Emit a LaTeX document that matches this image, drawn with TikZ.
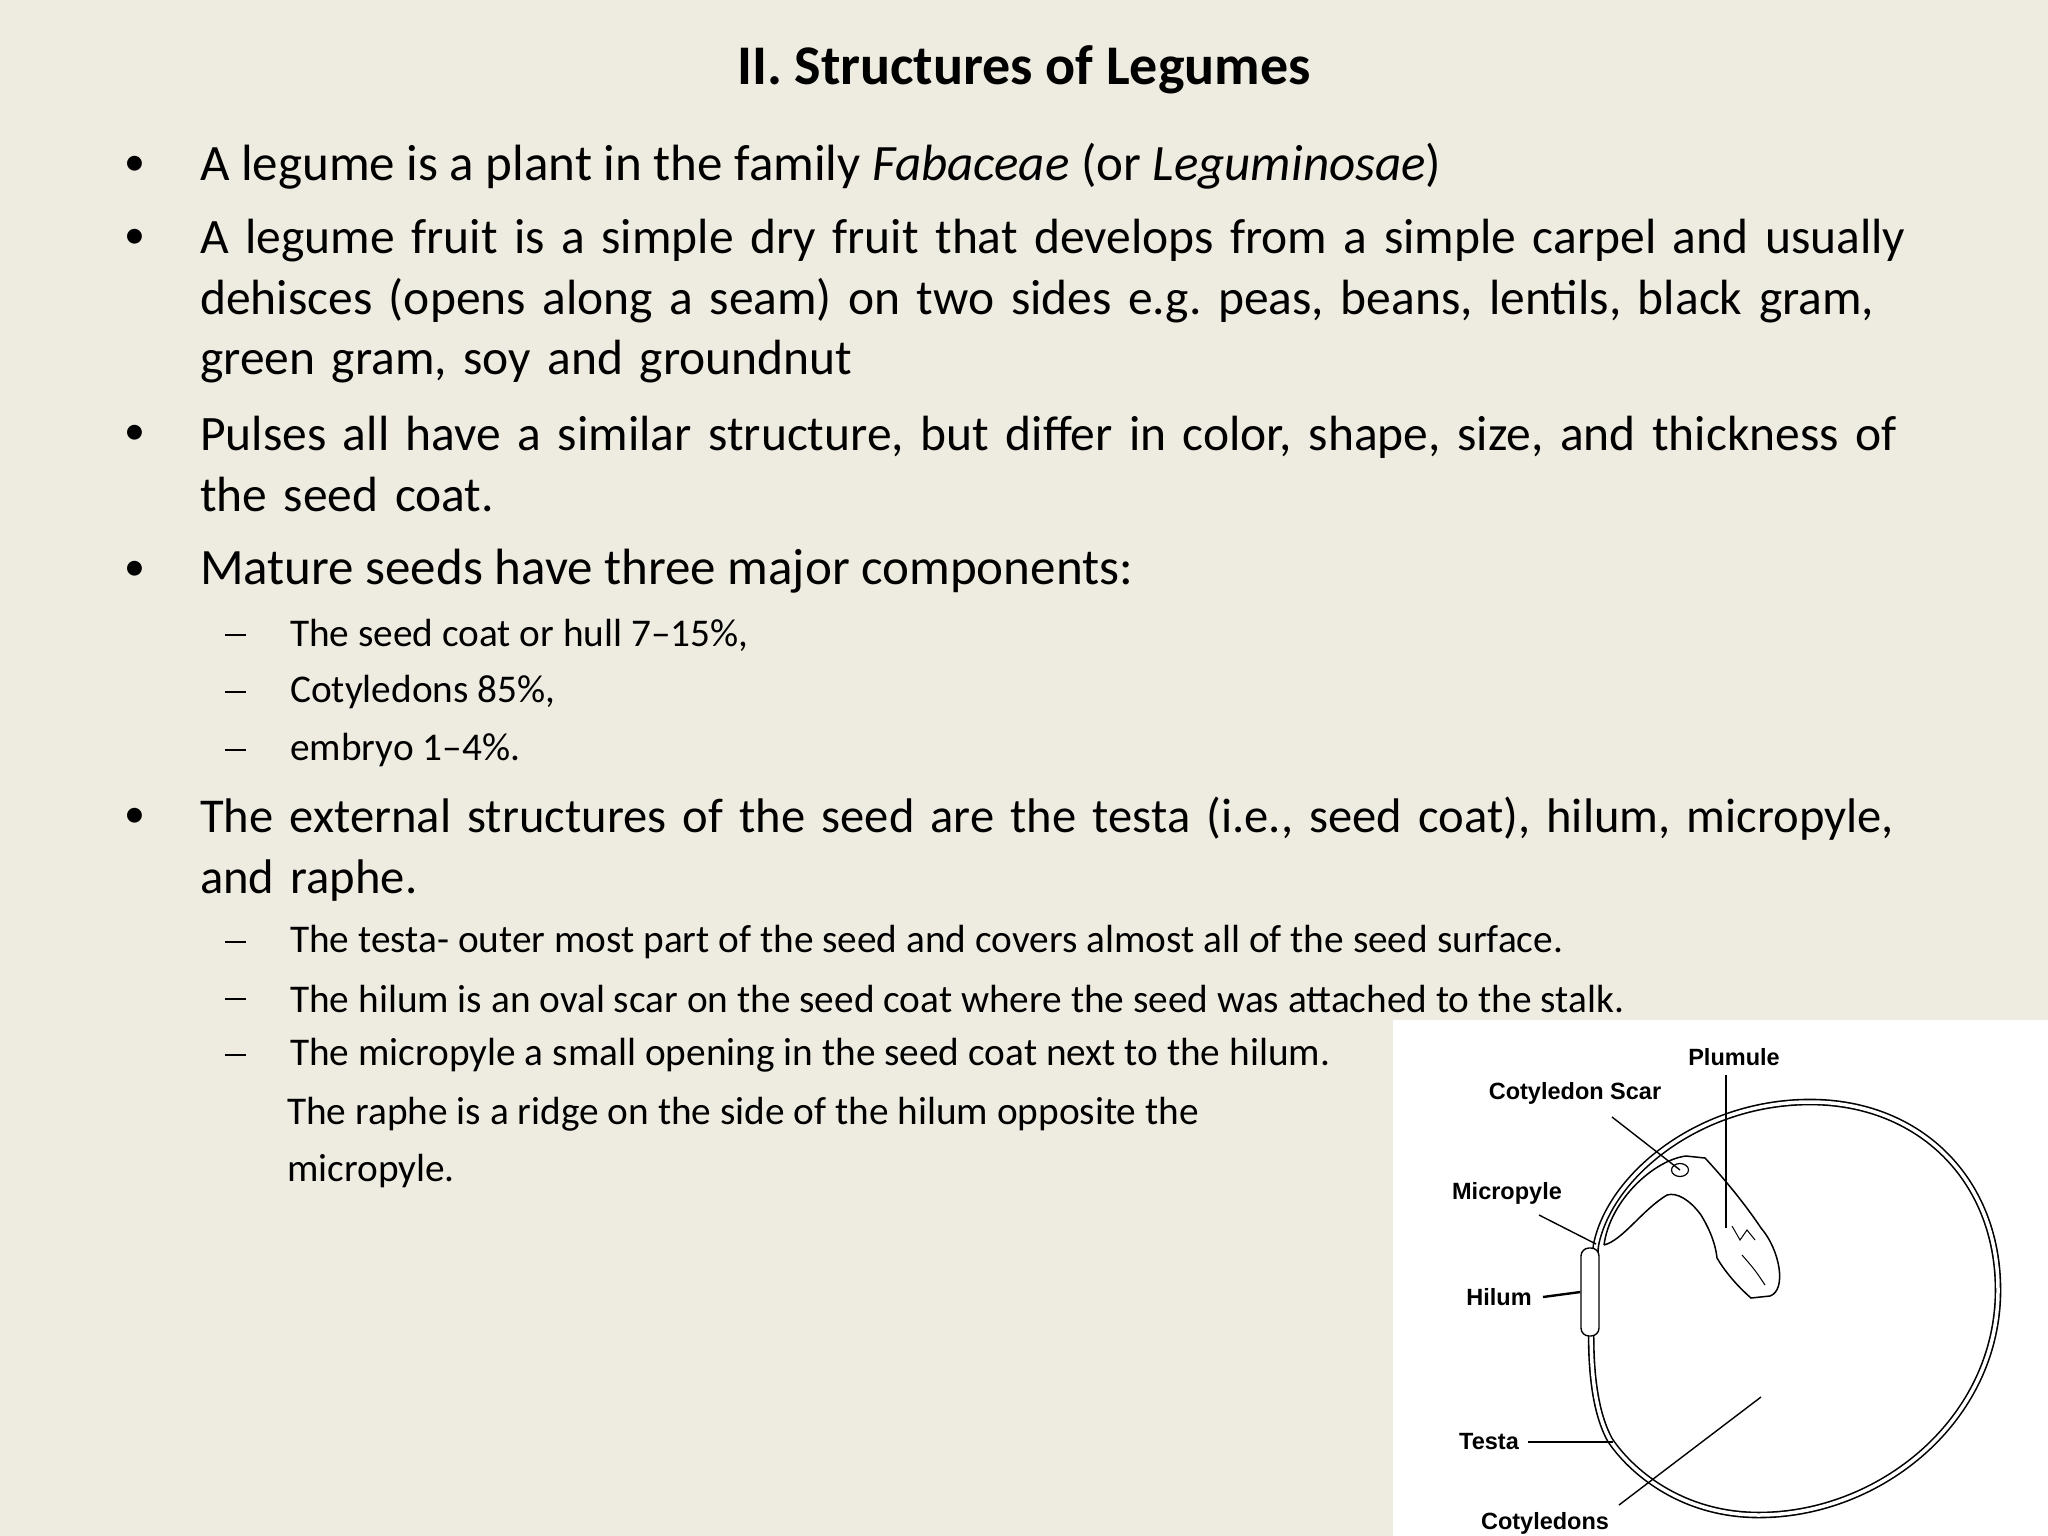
\documentclass[tikz,border=0pt]{standalone}
\usepackage{fontspec}
\usetikzlibrary{shapes.geometric}
\setmainfont{Carlito}
\newfontfamily\lab{Liberation Sans}
\definecolor{bg}{HTML}{EEEBE0}
\newcommand{\myparset}{\fontsize{49.5}{60.5}\selectfont\hyphenpenalty=10000 \exhyphenpenalty=10000 \frenchspacing\emergencystretch=40pt\relax}
\newcommand{\myparsetb}{\fontsize{48.6}{60.5}\selectfont\hyphenpenalty=10000 \exhyphenpenalty=10000 \frenchspacing\emergencystretch=40pt\relax}
\begin{document}
\begin{tikzpicture}[x=1pt,y=-1pt,
  bul/.style={anchor=west,inner sep=0pt,font=\fontsize{42}{60}\selectfont},
  big/.style={anchor=west,inner sep=0pt,font=\fontsize{51}{60}\selectfont},
  par/.style={anchor=north west,inner sep=0pt,text width=1724pt,font=\myparset},
  small/.style={anchor=west,inner sep=0pt,font=\fontsize{39.3}{57}\selectfont},
  dsh/.style={anchor=west,inner sep=0pt,fill=black,minimum width=21pt,minimum height=2.4pt},
  lbl/.style={inner sep=0pt,font=\lab\bfseries\fontsize{23.5}{26}\selectfont},
  ln/.style={line width=1.4pt}]
\fill[bg] (0,0) rectangle (2048,1536);
\useasboundingbox (0,0) rectangle (2048,1536);
\node[inner sep=0pt,font=\bfseries\fontsize{56}{60}\selectfont] (title) at (1024,70) {II. Structures of Legumes};
% bullets
\foreach \y/\n in {166/b1,239/b2,435/b3,571/b4,818/b5}
  \node[bul] (\n) at (124,\y) {•};
\node[big] (t1) at (200,166) {A legume is a plant in the family \textit{Fabaceae} (or \textit{Leguminosae})};
\node[par] (t2) at (200,219) {A legume fruit is a simple dry fruit that develops from a simple carpel and usually\linebreak dehisces (opens along a seam) on two sides e.g. peas, beans, lentils, black gram,\linebreak green gram, soy and groundnut};
\node[par] (t3) at (200,416) {Pulses all have a similar structure, but differ in color, shape, size, and thickness of\linebreak the seed coat.};
\node[big] (t4) at (200,571) {Mature seeds have three major components:};
\foreach \y/\n in {635/d1,692/d2,750/d3,942/d4,999/d5,1055/d6}
  \node[dsh] (\n) at (225,\y) {};
\node[small] (s1) at (290,635) {The seed coat or hull 7–15\%,};
\node[small] (s2) at (290,692) {Cotyledons 85\%,};
\node[small] (s3) at (290,750) {embryo 1–4\%.};
\node[par,font=\myparsetb] (t5) at (200,797) {The external structures of the seed are the testa (i.e., seed coat), hilum, micropyle,\linebreak and raphe.};
\node[small] (s4) at (290,942) {The testa- outer most part of the seed and covers almost all of the seed surface.};
\node[small] (s5) at (290,999) {The hilum is an oval scar on the seed coat where the seed was attached to the stalk.};
\node[small] (s6) at (290,1055) {The micropyle a small opening in the seed coat next to the hilum.};
\node[small] (s7) at (287,1114) {The raphe is a ridge on the side of the hilum opposite the};
\node[small] (s8) at (287,1171) {micropyle.};
% figure
\fill[white] (1393,1020) rectangle (2048,1536);
\draw[double=white,double distance=3.5pt,line width=1.6pt]
  (1596,1245) .. controls (1610,1175) and (1700,1102) .. (1810,1102)
  .. controls (1920,1102) and (1998,1180) .. (1998,1290)
  .. controls (1998,1420) and (1880,1515) .. (1759,1515)
  .. controls (1680,1515) and (1630,1470) .. (1610,1440)
  .. controls (1588,1400) and (1588,1330) .. (1596,1245);
\draw[line width=1.5pt,fill=white]
  (1604,1245) .. controls (1610,1200) and (1654,1160) .. (1686,1156)
  -- (1705,1158) .. controls (1730,1185) and (1749,1210) .. (1761,1228)
  .. controls (1780,1250) and (1787,1290) .. (1770,1296)
  -- (1751,1298) .. controls (1736,1285) and (1724,1270) .. (1717,1258)
  .. controls (1715,1240) and (1707,1225) .. (1701,1215)
  .. controls (1690,1200) and (1677,1192) .. (1667,1195)
  .. controls (1642,1210) and (1623,1240) .. (1604,1245);
\draw[line width=1pt] (1732,1226) -- (1740,1240) -- (1747,1230) -- (1755,1240);
\draw[line width=1pt] (1742,1255) .. controls (1755,1270) .. (1765,1285);
\node[draw,line width=1.2pt,ellipse,minimum width=17pt,minimum height=13pt,inner sep=0pt] (scar) at (1680,1170) {};
\node[draw,line width=1.4pt,fill=white,rounded corners=8pt,minimum width=18pt,minimum height=88pt,inner sep=0pt] (hil) at (1590,1292) {};
\node[lbl] (plu) at (1734,1057) {Plumule};
\node[lbl] (csc) at (1575,1093) {Cotyledon Scar};
\node[lbl] (mic) at (1507,1193) {Micropyle};
\node[lbl] (hlm) at (1499,1297) {Hilum};
\node[lbl] (tes) at (1489,1442) {Testa};
\node[lbl] (cot) at (1545,1523) {Cotyledons};
\coordinate (pS) at (1726,1075);
\coordinate (pE) at (1726,1228);
\coordinate (cS) at (1612,1117);
\coordinate (mS) at (1539,1215);
\coordinate (mE) at (1596,1244);
\coordinate (hS) at (1543,1297);
\coordinate (tS) at (1528,1442);
\coordinate (tE) at (1613,1442);
\coordinate (kS) at (1619,1505);
\coordinate (kE) at (1761,1397);
\draw[ln] (pS) -- (pE);
\draw[ln] (cS) -- (scar.center);
\draw[ln] (mS) -- (mE);
\draw[line width=2.4pt] (hS) -- (hil.west);
\draw[ln] (tS) -- (tE);
\draw[ln] (kS) -- (kE);
\end{tikzpicture}
\end{document}
